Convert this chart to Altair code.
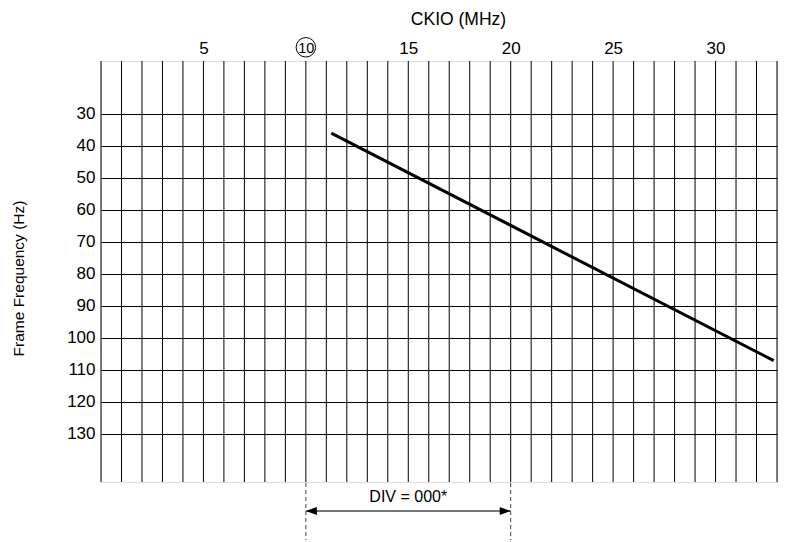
import altair as alt
import pandas as pd

# ---- data ----
ckio_grid = list(range(0, 34))            # vertical grid every 1 MHz
ckio_labels = [5, 10, 15, 20, 25, 30]     # labelled ticks
freq_ticks = [30, 40, 50, 60, 70, 80, 90, 100, 110, 120, 130]
line_ckio = [11.24, 32.84]
line_freq = [36.1, 107.2]
div_bounds = [10, 20]
div_label = "DIV = 000*"
circled_tick = [10]

FONT = "Liberation Sans"
W, H = 676, 421
X_DOMAIN = [0, 33]
Y_DOMAIN = [13.56, 145.12]

xscale = alt.Scale(domain=X_DOMAIN, nice=False, zero=False)
yscale = alt.Scale(domain=Y_DOMAIN, nice=False, zero=False, reverse=True)

grid_df = pd.DataFrame({"ckio": ckio_grid})
line_df = pd.DataFrame({"ckio": line_ckio, "freq": line_freq})

grid = alt.Chart(grid_df).mark_rule(color="black", strokeWidth=1).encode(
    x=alt.X("ckio:Q", scale=xscale,
            axis=alt.Axis(orient="top", values=ckio_labels,
                          title="CKIO (MHz)", ticks=False, domain=False, grid=False,
                          labelFont=FONT, labelColor="black",
                          labelFontSize={"condition": {"test": "datum.value == 10", "value": 14.5},
                                         "value": 17},
                          labelPadding={"condition": {"test": "datum.value == 10", "value": 6},
                                        "value": 4},
                          labelOverlap=False, labelFlush=False,
                          titleFont=FONT, titleFontSize=17.5, titleFontWeight="normal",
                          titleColor="black", titleX=357, titleY=-37,
                          titleBaseline="alphabetic", titleAlign="center")),
)

line = alt.Chart(line_df).mark_line(color="black", strokeWidth=3).encode(
    x=alt.X("ckio:Q", scale=xscale),
    y=alt.Y("freq:Q", scale=yscale,
            axis=alt.Axis(values=freq_ticks, title="Frame Frequency (Hz)",
                          ticks=False, domain=False,
                          grid=True, gridColor="black", gridOpacity=1, gridWidth=1,
                          labelFont=FONT, labelFontSize=17, labelColor="black",
                          labelPadding=6, labelOverlap=False, labelFlush=False,
                          titleFont=FONT, titleFontSize=15.5, titleFontWeight="normal",
                          titleColor="black", titleX=-83, titleY=217,
                          titleBaseline="middle", titleAlign="center", titleAngle=-90)),
)

div_df = pd.DataFrame({"ckio": div_bounds})
dashes = alt.Chart(div_df).mark_rule(color="#444", strokeWidth=1, strokeDash=[4, 3], clip=False).encode(
    x=alt.X("ckio:Q", scale=xscale),
    y=alt.value(H + 1),
    y2=alt.value(H + 62),
)

span_df = pd.DataFrame({"ckio": [div_bounds[0]], "ckio2": [div_bounds[1]]})
arrow_line = alt.Chart(span_df).mark_rule(color="#777", strokeWidth=2, clip=False).encode(
    x=alt.X("ckio:Q", scale=xscale),
    x2="ckio2:Q",
    y=alt.value(450),
)

left_head = alt.Chart(pd.DataFrame({"ckio": [div_bounds[0]]})).mark_point(
    shape="M0,0L2,-0.73L2,0.73Z", size=121, filled=True, color="black", opacity=1, clip=False
).encode(x=alt.X("ckio:Q", scale=xscale), y=alt.value(450))

right_head = alt.Chart(pd.DataFrame({"ckio": [div_bounds[1]]})).mark_point(
    shape="M0,0L-2,-0.73L-2,0.73Z", size=121, filled=True, color="black", opacity=1, clip=False
).encode(x=alt.X("ckio:Q", scale=xscale), y=alt.value(450))

mid_df = pd.DataFrame({"ckio": [(div_bounds[0] + div_bounds[1]) / 2], "t": [div_label]})
div_text = alt.Chart(mid_df).mark_text(font=FONT, fontSize=16, color="black",
                                       baseline="middle", align="center", clip=False).encode(
    x=alt.X("ckio:Q", scale=xscale), y=alt.value(436), text="t:N")

circle = alt.Chart(pd.DataFrame({"ckio": circled_tick})).mark_point(
    shape="circle", size=380, filled=False, color="black", strokeWidth=1, opacity=1, clip=False
).encode(x=alt.X("ckio:Q", scale=xscale), y=alt.value(-13.7))

chart = alt.layer(grid, line, dashes, arrow_line, left_head, right_head, div_text, circle).properties(
    width=W, height=H,
    padding={"left": 93, "top": 53, "right": 3, "bottom": 58},
    autosize=alt.AutoSizeParams(type="none"),
).configure_view(stroke="black", strokeWidth=1).configure(background="white")

chart.save("out.html", embed_options={"renderer": "svg", "actions": False})
